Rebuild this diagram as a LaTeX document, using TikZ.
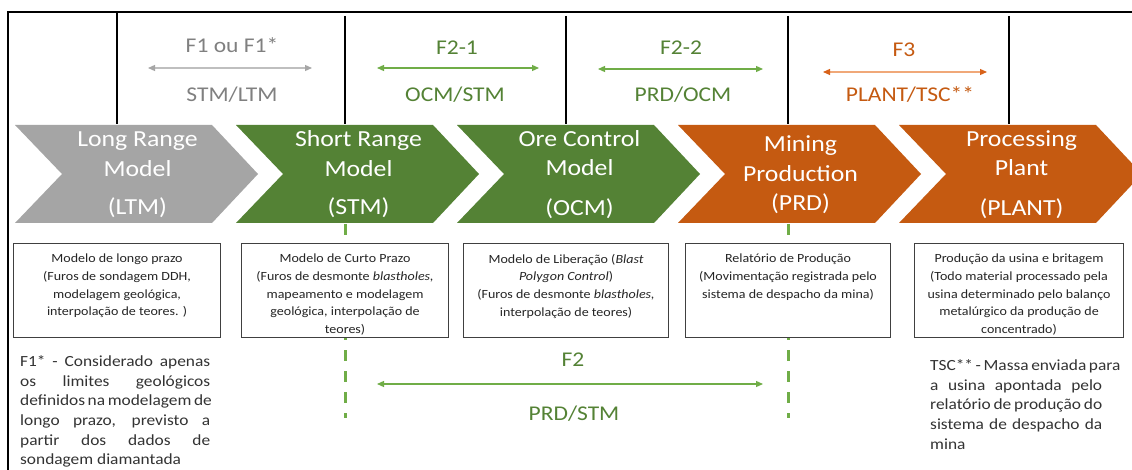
\documentclass[tikz,border=0pt]{standalone}
\usepackage{fontspec}
\setmainfont{Carlito}[FakeStretch=1.12]
\usetikzlibrary{arrows.meta}
\definecolor{chgray}{HTML}{A5A5A5}
\definecolor{chgreen}{HTML}{548235}
\definecolor{chorange}{HTML}{C55A11}
\definecolor{lgreen}{HTML}{70AD47}
\definecolor{txtgray}{HTML}{808080}
\definecolor{linegray}{HTML}{BFBFBF}
\definecolor{tipgray}{HTML}{A6A6A6}
\definecolor{lorange}{HTML}{F0A878}
\definecolor{tiporange}{HTML}{D8621A}
\definecolor{ink}{HTML}{404040}
% one chevron of the process band: left x, fill colour
\newcommand\chevron[2]{\fill[#2] (#1,125) -- ++(197,0) -- ++(46,49) -- ++(-46,49) -- ++(-197,0) -- ++(47,-49) -- cycle;}
\begin{document}
\begin{tikzpicture}[x=1pt,y=-1pt,
  chevtxt/.style={text=white, font=\fontsize{23}{28}\selectfont, anchor=base, inner sep=0pt},
  toplbl/.style={font=\fontsize{21}{25}\selectfont, anchor=base, inner sep=0pt},
  sepline/.style={line width=2.5pt, black},
  dashline/.style={line width=3pt, lgreen, dash pattern=on 11pt off 10pt},
  infobox/.style={draw=ink, line width=1.1pt, fill=white, minimum height=94pt, inner sep=0pt, anchor=north west},
  boxtxt/.style={font=\fontsize{12.5}{17.6}\selectfont, text=black!85, align=center, anchor=north, inner sep=0pt},
  note/.style={font=\fontsize{15.5}{19.6}\selectfont, text=black!80, align=left, anchor=north west, inner sep=0pt},
  grayarrow/.style={draw=linegray, line width=1.2pt, arrows={Triangle[length=7pt,width=6pt,color=tipgray]-Triangle[length=7pt,width=6pt,color=tipgray]}},
  greenarrow/.style={draw=lgreen, line width=1.2pt, arrows={Triangle[length=7pt,width=6pt]-Triangle[length=7pt,width=6pt]}},
  orangearrow/.style={draw=lorange, line width=1.2pt, arrows={Triangle[length=7pt,width=6pt,color=tiporange]-Triangle[length=7pt,width=6pt,color=tiporange]}},
]
\useasboundingbox (0,0) rectangle (1132,470);
\fill[white] (0,0) rectangle (1132,470);

% outer frame (top and left edges)
\draw[line width=2pt] (8,470) -- (8,12) -- (1132,12);

% separators between the phases
\draw[sepline] (117,12) -- (117,124);
\draw[sepline] (345,16) -- (345,124);
\draw[sepline] (566,16) -- (566,124);
\draw[sepline] (788,16) -- (788,124);
\draw[sepline] (1009,16) -- (1009,124);

% dashed markers of the F2 span
\draw[dashline] (345,224) -- (345,418);
\draw[dashline] (788,224) -- (788,418);

% process band
\chevron{15}{chgray}
\chevron{236}{chgreen}
\chevron{457}{chgreen}
\chevron{678}{chorange}
\chevron{899}{chorange}

\node[chevtxt] (ltmA) at (137.5,147) {Long Range};
\node[chevtxt] (ltmB) at (137.5,177) {Model};
\node[chevtxt] (ltmC) at (137.5,215) {(LTM)};

\node[chevtxt] (stmA) at (358.5,147) {Short Range};
\node[chevtxt] (stmB) at (358.5,177) {Model};
\node[chevtxt] (stmC) at (358.5,215) {(STM)};

\node[chevtxt] (ocmA) at (579.5,147) {Ore Control};
\node[chevtxt] (ocmB) at (579.5,176) {Model};
\node[chevtxt] (ocmC) at (579.5,216) {(OCM)};

\node[chevtxt] (prdA) at (800.5,152) {Mining};
\node[chevtxt] (prdB) at (800.5,182) {Production};
\node[chevtxt] (prdC) at (800.5,211) {(PRD)};

\node[chevtxt] (plA) at (1021.5,147) {Processing};
\node[chevtxt] (plB) at (1021.5,176) {Plant};
\node[chevtxt] (plC) at (1021.5,216) {(PLANT)};

% reconciliation factors above the band
\node[toplbl, text=txtgray] (f1) at (232,53) {F1 ou F1*};
\coordinate (f1l) at (148,68); \coordinate (f1r) at (312,68);
\draw[grayarrow] (f1l) -- (f1r);
\node[toplbl, text=txtgray] (f1s) at (232,102) {STM/LTM};

\node[toplbl, text=chgreen] (f21) at (457,55) {F2-1};
\coordinate (f21l) at (377,68); \coordinate (f21r) at (539,68);
\draw[greenarrow] (f21l) -- (f21r);
\node[toplbl, text=chgreen] (f21s) at (455,102) {OCM/STM};

\node[toplbl, text=chgreen] (f22) at (681,55) {F2-2};
\coordinate (f22l) at (598,69); \coordinate (f22r) at (763,69);
\draw[greenarrow] (f22l) -- (f22r);
\node[toplbl, text=chgreen] (f22s) at (683,102) {PRD/OCM};

\node[toplbl, text=chorange] (f3) at (904,57) {F3};
\coordinate (f3l) at (823,72); \coordinate (f3r) at (987,72);
\draw[orangearrow] (f3l) -- (f3r);
\node[toplbl, text=chorange] (f3s) at (910,102) {PLANT/TSC**};

% description boxes
\node[infobox, minimum width=207pt] (b1) at (13,243) {};
\node[infobox, minimum width=207pt] (b2) at (241,243) {};
\node[infobox, minimum width=205pt] (b3) at (463,243) {};
\node[infobox, minimum width=205pt] (b4) at (685,243) {};
\node[infobox, minimum width=209pt] (b5) at (914,243) {};

\node[boxtxt] (b1t) at ([yshift=-11pt]b1.north) {Modelo de longo prazo\\(Furos de sondagem DDH,\\modelagem geológica,\\interpolação de teores. )};
\node[boxtxt] (b2t) at ([yshift=-11pt]b2.north) {Modelo de Curto Prazo\\(Furos de desmonte \textit{blastholes,}\\mapeamento e modelagem\\geológica, interpolação de\\teores)};
\node[boxtxt] (b3t) at ([yshift=-11pt]b3.north) {Modelo de Liberação (\textit{Blast}\\\textit{Polygon Control})\\(Furos de desmonte \textit{blastholes,}\\interpolação de teores)};
\node[boxtxt] (b4t) at ([yshift=-11pt]b4.north) {Relatório de Produção\\(Movimentação registrada pelo\\sistema de despacho da mina)};
\node[boxtxt] (b5t) at ([yshift=-11pt]b5.north) {Produção da usina e britagem\\(Todo material processado pela\\usina determinado pelo balanço\\metalúrgico da produção de\\concentrado)};

% F2 below the boxes
\node[toplbl, text=chgreen] (f2) at (573,366) {F2};
\coordinate (f2l) at (377,384); \coordinate (f2r) at (763,384);
\draw[greenarrow] (f2l) -- (f2r);
\node[toplbl, text=chgreen] (f2s) at (574,420) {PRD/STM};

% footnotes
\node[note] (n1) at (20,355.5) {%
\makebox[190pt][s]{F1* - Considerado apenas}\\
\makebox[190pt][s]{os limites geológicos}\\
\makebox[190pt][s]{definidos na modelagem de}\\
\makebox[190pt][s]{longo prazo, previsto a}\\
\makebox[190pt][s]{partir dos dados de}\\
sondagem diamantada};

\node[note] (n2) at (930,359.5) {%
\makebox[172pt][s]{TSC** - Massa enviada para}\\
\makebox[172pt][s]{a usina apontada pelo}\\
\makebox[172pt][s]{relatório de produção do}\\
\makebox[172pt][s]{sistema de despacho da}\\
mina};
\end{tikzpicture}
\end{document}
